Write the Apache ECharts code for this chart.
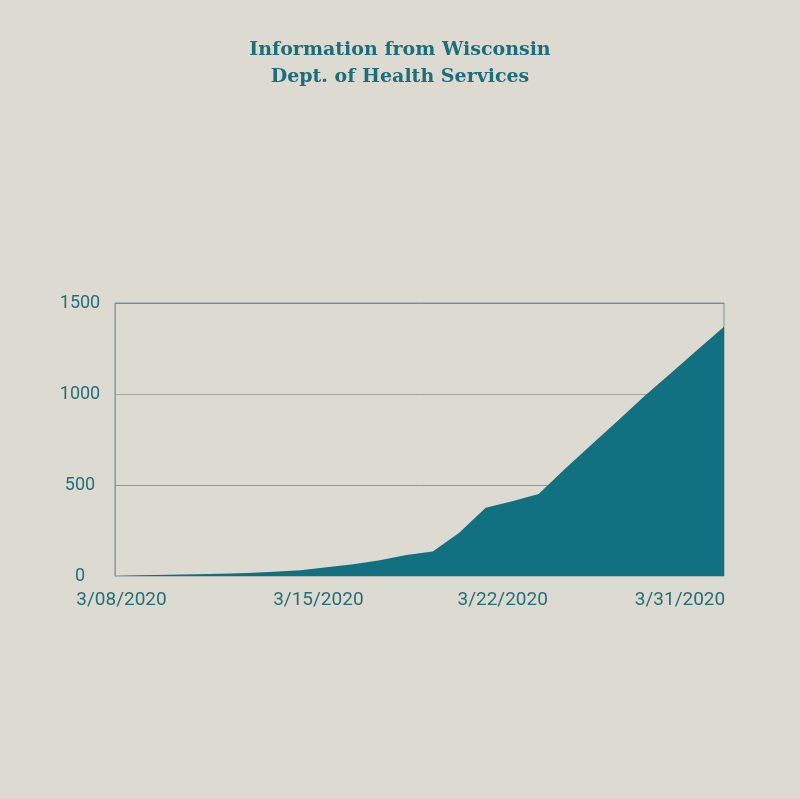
<!DOCTYPE html>
<html>
<head>
<meta charset="utf-8">
<script src="https://cdn.jsdelivr.net/npm/echarts@6/dist/echarts.min.js"></script>
<style>
html,body{margin:0;padding:0;background:#dddad1;}
#c{width:800px;height:799px;}
</style>
</head>
<body>
<div id="c"></div>
<script>
// Daily dates shown on the x axis
const dates = ['3/08/2020','3/09/2020','3/10/2020','3/11/2020','3/12/2020','3/13/2020','3/14/2020',
  '3/15/2020','3/16/2020','3/17/2020','3/18/2020','3/19/2020','3/20/2020','3/21/2020',
  '3/22/2020','3/23/2020','3/24/2020','3/25/2020','3/26/2020','3/27/2020','3/28/2020',
  '3/29/2020','3/30/2020','3/31/2020'];
// Values, one per day
const cases = [0, 4, 7, 9, 12, 16, 24, 32, 48, 65, 87, 116, 134, 238, 375, 411, 450, 589, 722, 855, 989, 1116, 1243, 1370];
// Dates that carry a label
const labelledDates = ['3/08/2020','3/15/2020','3/22/2020','3/31/2020'];
const yTicks = [0, 500, 1000, 1500];

const teal = '#127180';
const textTeal = '#236f7a';

const chart = echarts.init(document.getElementById('c'), null, {renderer:'canvas'});
const richStyles = {
  a: {color:textTeal, fontSize:19, fontFamily:'Roboto', padding:[0,0,0,13]},
  b: {color:textTeal, fontSize:19, fontFamily:'Roboto', padding:[0,0,0,36]},
  c: {color:textTeal, fontSize:19, fontFamily:'Roboto', padding:[0,0,0,34]},
  d: {color:textTeal, fontSize:19, fontFamily:'Roboto', padding:[0,88,0,0]}
};
const keys = ['a','b','c','d'];
chart.setOption({
  backgroundColor:'#dddad1',
  animation:false,
  title:{
    text:'Information from Wisconsin\nDept. of Health Services',
    left:'center',
    top:31,
    textStyle:{fontFamily:'DejaVu Serif', fontWeight:'bold', fontSize:19, lineHeight:27.5, color:'#1c6e7b'}
  },
  grid:{left:115, right:76, top:303, bottom:223, show:true, borderColor:'#7a9799', borderWidth:1, backgroundColor:'transparent'},
  xAxis:{
    type:'category',
    data:dates,
    boundaryGap:false,
    axisLine:{show:false},
    axisTick:{show:false},
    splitLine:{show:false},
    axisLabel:{
      interval:0,
      margin:15,
      hideOverlap:false,
      formatter:function(v){
        const k = labelledDates.indexOf(v);
        return k < 0 ? '' : '{' + keys[k] + '|' + v + '}';
      },
      rich:richStyles
    }
  },
  yAxis:{
    type:'value',
    min:yTicks[0],
    max:yTicks[yTicks.length-1],
    interval:yTicks[1]-yTicks[0],
    axisLine:{show:true, lineStyle:{color:'#8a9c9c', width:1}},
    axisTick:{show:false},
    splitLine:{show:true, lineStyle:{color:['transparent','#7f9a9a','#a6a39a','#6f9095'], width:1}},
    axisLabel:{color:textTeal, fontSize:18, fontFamily:'Roboto', align:'center', margin:35,
      formatter:function(v){ return String(v); }}
  },
  series:[{
    type:'line',
    data:cases,
    symbol:'none',
    smooth:false,
    lineStyle:{width:0},
    areaStyle:{color:teal, opacity:1}
  }]
});
</script>
</body>
</html>
